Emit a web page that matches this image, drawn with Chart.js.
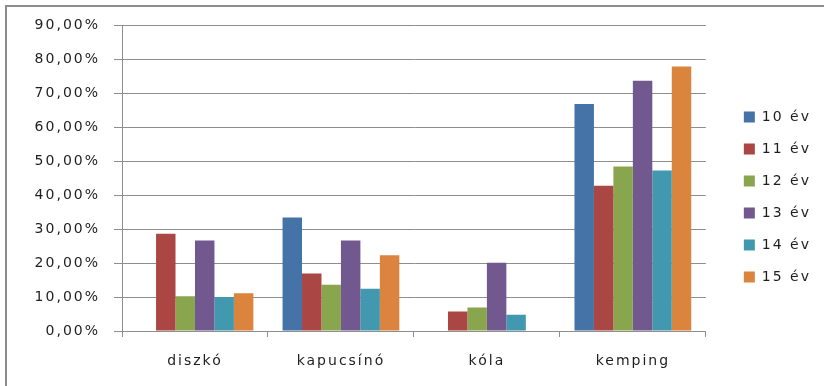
<!DOCTYPE html>
<html>
<head>
<meta charset="utf-8">
<script src="https://cdn.jsdelivr.net/npm/chart.js@4"></script>
<style>
    html, body { margin: 0; padding: 0; background: #ffffff; }
    #wrap { position: relative; width: 824px; height: 386px; overflow: hidden; }
    /* grey frame, only the top and left edges fall inside the page */
    #frame {
        position: absolute; left: 5px; top: 5px; width: 900px; height: 500px;
        border-left: 2px solid #8c8c8c; border-top: 2px solid #8c8c8c;
    }
    #chart { position: absolute; left: 0; top: 0; }
</style>
</head>
<body>
<div id="wrap">
    <div id="frame"></div>
    <canvas id="chart" width="824" height="386"></canvas>
</div>
<script>
const categories = ['diszkó', 'kapucsínó', 'kóla', 'kemping'];
const seriesNames = ['10 év', '11 év', '12 év', '13 év', '14 év', '15 év'];

// percentages per category
const ev10 = [null, 33.4, null, 66.8];
const ev11 = [28.6, 16.9, 5.7, 42.7];
const ev12 = [10.2, 13.6, 6.9, 48.4];
const ev13 = [26.6, 26.6, 20.1, 73.6];
const ev14 = [10.0, 12.4, 4.8, 47.2];
const ev15 = [11.1, 22.3, null, 77.8];

const yTicks = [0, 10, 20, 30, 40, 50, 60, 70, 80, 90];

const colors = ['#4572a7', '#aa4643', '#89a54e', '#71588f', '#4198af', '#db843d'];
const gridColor = '#8e8e8e';
const textColor = '#1e1e1e';

const allSeries = [ev10, ev11, ev12, ev13, ev14, ev15];

const datasets = allSeries.map(function(values, i) {
    return {
        label: seriesNames[i],
        data: values,
        backgroundColor: colors[i],
        borderWidth: 0,
        categoryPercentage: 0.8,
        barPercentage: 1.0
    };
});

// slightly spread lettering for all chart text
const wideText = {
    id: 'wideText',
    beforeDraw(chart) {
        chart.ctx.letterSpacing = '2px';
    }
};

Chart.defaults.font.family = '"DejaVu Sans", Verdana, sans-serif';
Chart.defaults.font.size = 14;
Chart.defaults.color = textColor;

new Chart(document.getElementById('chart'), {
    type: 'bar',
    data: { labels: categories, datasets: datasets },
    plugins: [wideText],
    options: {
        responsive: false,
        animation: false,
        layout: { padding: { left: 10, top: 25, right: 13, bottom: 17 } },
        plugins: {
            legend: {
                position: 'right',
                labels: {
                    boxWidth: 11,
                    boxHeight: 11,
                    padding: 18,
                    font: { size: 14 }
                }
            },
            tooltip: { enabled: false }
        },
        scales: {
            x: {
                grid: {
                    offset: true,
                    drawOnChartArea: false,
                    drawTicks: true,
                    tickLength: 6,
                    color: gridColor
                },
                border: { color: gridColor },
                ticks: { padding: 16 },
                afterFit(scale) { scale.height = 38; }
            },
            y: {
                min: 0,
                max: 90,
                afterBuildTicks(scale) {
                    scale.ticks = yTicks.map(v => ({ value: v }));
                },
                ticks: {
                    padding: 14,
                    callback: v => v.toFixed(2).replace('.', ',') + '%'
                },
                grid: { color: gridColor, tickLength: 8 },
                border: { color: gridColor },
                afterFit(scale) { scale.width = 112; }
            },
            // empty spacer between the plot and the legend
            gap: {
                position: 'right',
                display: true,
                grid: { display: false },
                border: { display: false },
                ticks: { display: false },
                afterFit(scale) { scale.width = 20; }
            }
        }
    }
});
</script>
</body>
</html>
